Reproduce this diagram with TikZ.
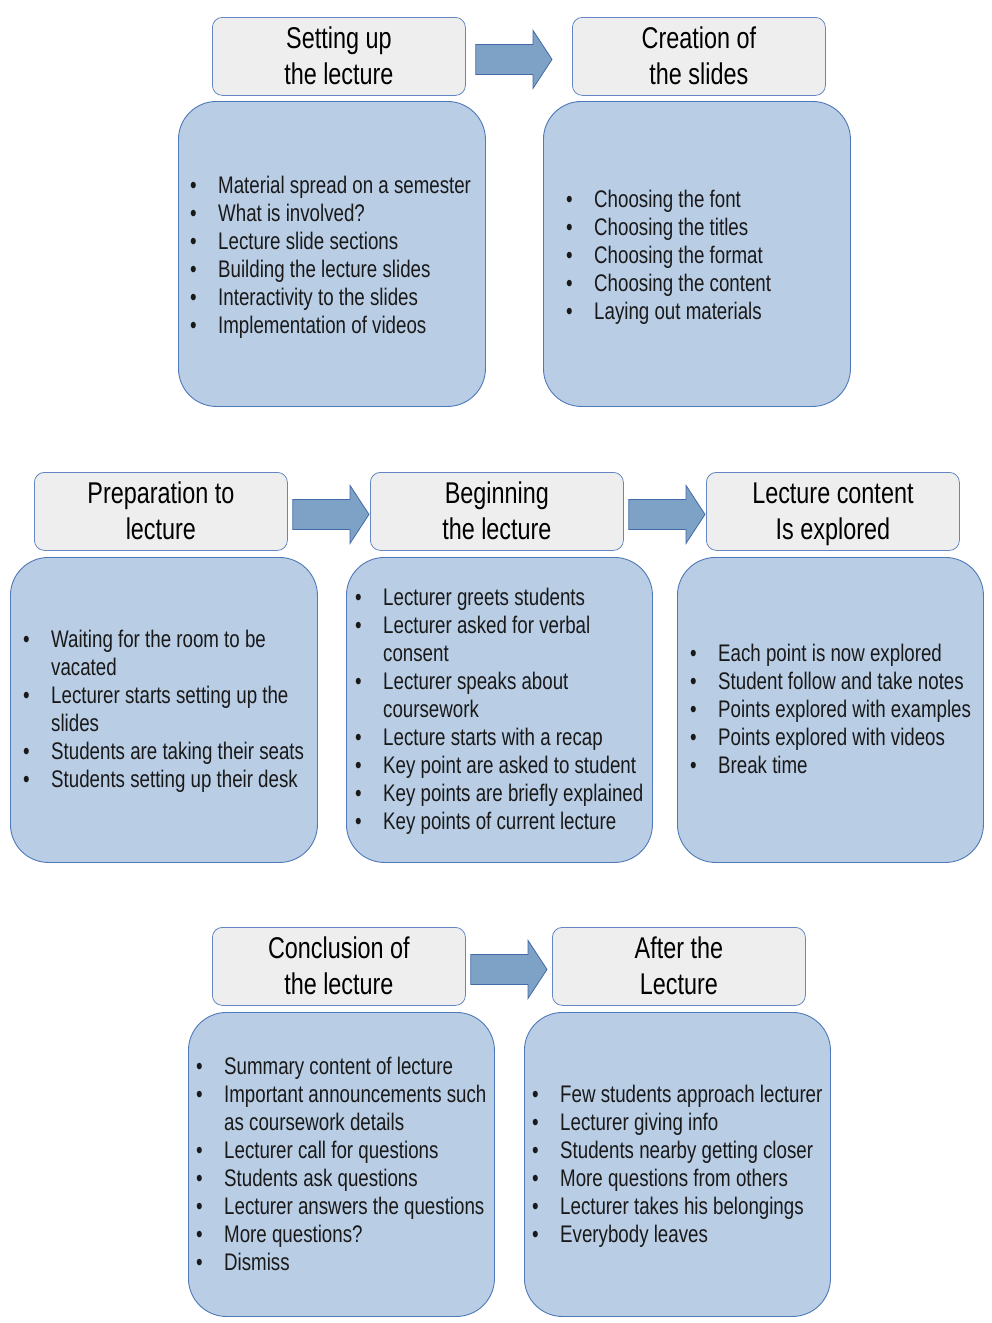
\documentclass[tikz,border=0pt]{standalone}
\usepackage{fontspec}
\setmainfont{Liberation Sans}[FakeStretch=0.78]
\usetikzlibrary{calc}
\definecolor{tfill}{RGB}{238,238,238}
\definecolor{tline}{RGB}{100,135,195}
\definecolor{cfill}{RGB}{185,205,229}
\definecolor{cline}{RGB}{79,121,184}
\definecolor{afill}{RGB}{126,161,198}
\definecolor{aline}{RGB}{66,106,168}
\definecolor{txt}{RGB}{25,25,25}
\newcommand{\bi}{\makebox[28pt][l]{\textbullet}}
\newcommand{\ind}{\hspace*{28pt}}
\newcommand{\tl}[2]{\strut #1\\\strut #2}
\tikzset{
  titlebox/.style={draw=tline, line width=0.8pt, fill=tfill, rounded corners=10pt,
    minimum width=253pt, minimum height=78pt, anchor=north west, inner sep=0pt},
  titletext/.style={align=center, inner sep=0pt, text=black,
    font=\fontsize{30}{36}\selectfont},
  contentbox/.style={draw=cline, line width=0.9pt, fill=cfill, rounded corners=38pt,
    minimum width=307pt, minimum height=305pt, anchor=north west, inner sep=0pt},
  listtext/.style={anchor=west, align=left, inner sep=0pt, text=txt,
    font=\fontsize{24}{28}\selectfont},
  blockarrow/.style={draw=aline, line width=0.8pt, fill=afill}
}
% #1 from node, #2 to node, #3 gap after #1, #4 gap before #2
\newcommand{\barrow}[4]{%
  \path let \p1=($(#1.east)+(#3,3)$), \p2=($(#2.west)+(-#4,3)$) in
    [blockarrow] (\x1,\y1+15pt) -- (\x2-19pt,\y1+15pt) -- (\x2-19pt,\y1+29pt)
    -- (\x2,\y1) -- (\x2-19pt,\y1-29pt) -- (\x2-19pt,\y1-15pt) -- (\x1,\y1-15pt) -- cycle;}
\begin{document}
\begin{tikzpicture}[x=1pt,y=-1pt]
\useasboundingbox[fill=white] (0,0) rectangle (992,1323);
% Row 1
\node[titlebox] (t1) at (212,17) {};
\node[titletext] (tt1) at ($(t1.center)+(0,3)$) {\tl{Setting up}{the lecture}};
\node[titlebox] (t2) at (572,17) {};
\node[titletext] (tt2) at ($(t2.center)+(0,3)$) {\tl{Creation of}{the slides}};
\barrow{t1}{t2}{10}{20}
\node[contentbox] (c1) at (178,101) {};
\node[contentbox] (c2) at (543,101) {};
\node[listtext] (l1) at ($(c1.west)+(12,3)$) {\bi Material spread on a semester\\\bi What is involved?\\\bi Lecture slide sections\\\bi Building the lecture slides\\\bi Interactivity to the slides\\\bi Implementation of videos};
\node[listtext] (l2) at ($(c2.west)+(23,3)$) {\bi Choosing the font\\\bi Choosing the titles\\\bi Choosing the format\\\bi Choosing the content\\\bi Laying out materials};
% Row 2
\node[titlebox] (t3) at (34,472) {};
\node[titletext] (tt3) at ($(t3.center)+(0,3)$) {\tl{Preparation to}{lecture}};
\node[titlebox] (t4) at (370,472) {};
\node[titletext] (tt4) at ($(t4.center)+(0,3)$) {\tl{Beginning}{the lecture}};
\node[titlebox] (t5) at (706,472) {};
\node[titletext] (tt5) at ($(t5.center)+(0,3)$) {\tl{Lecture content}{Is explored}};
\barrow{t3}{t4}{5}{1}
\barrow{t4}{t5}{5}{1}
\node[contentbox] (c3) at (10,557) {};
\node[contentbox, minimum width=306pt] (c4) at (346,557) {};
\node[contentbox, minimum width=306pt] (c5) at (677,557) {};
\node[listtext] (l3) at ($(c3.west)+(13,1)$) {\bi Waiting for the room to be\\\ind vacated\\\bi Lecturer starts setting up the\\\ind slides\\\bi Students are taking their seats\\\bi Students setting up their desk};
\node[listtext] (l4) at ($(c4.west)+(9,1)$) {\bi Lecturer greets students\\\bi Lecturer asked for verbal\\\ind consent\\\bi Lecturer speaks about\\\ind coursework\\\bi Lecture starts with a recap\\\bi Key point are asked to student\\\bi Key points are briefly explained\\\bi Key points of current lecture};
\node[listtext] (l5) at ($(c5.west)+(13,-1)$) {\bi Each point is now explored\\\bi Student follow and take notes\\\bi Points explored with examples\\\bi Points explored with videos\\\bi Break time};
% Row 3
\node[titlebox] (t6) at (212,927) {};
\node[titletext] (tt6) at ($(t6.center)+(0,3)$) {\tl{Conclusion of}{the lecture}};
\node[titlebox] (t7) at (552,927) {};
\node[titletext] (tt7) at ($(t7.center)+(0,3)$) {\tl{After the}{Lecture}};
\barrow{t6}{t7}{5}{5}
\node[contentbox, minimum width=306pt, minimum height=304pt] (c6) at (188,1012) {};
\node[contentbox, minimum width=306pt, minimum height=304pt] (c7) at (524,1012) {};
\node[listtext] (l6) at ($(c6.west)+(8,-1)$) {\bi Summary content of lecture\\\bi Important announcements such\\\ind as coursework details\\\bi Lecturer call for questions\\\bi Students ask questions\\\bi Lecturer answers the questions\\\bi More questions?\\\bi Dismiss};
\node[listtext] (l7) at ($(c7.west)+(8,2)$) {\bi Few students approach lecturer\\\bi Lecturer giving info\\\bi Students nearby getting closer\\\bi More questions from others\\\bi Lecturer takes his belongings\\\bi Everybody leaves};
\end{tikzpicture}
\end{document}
